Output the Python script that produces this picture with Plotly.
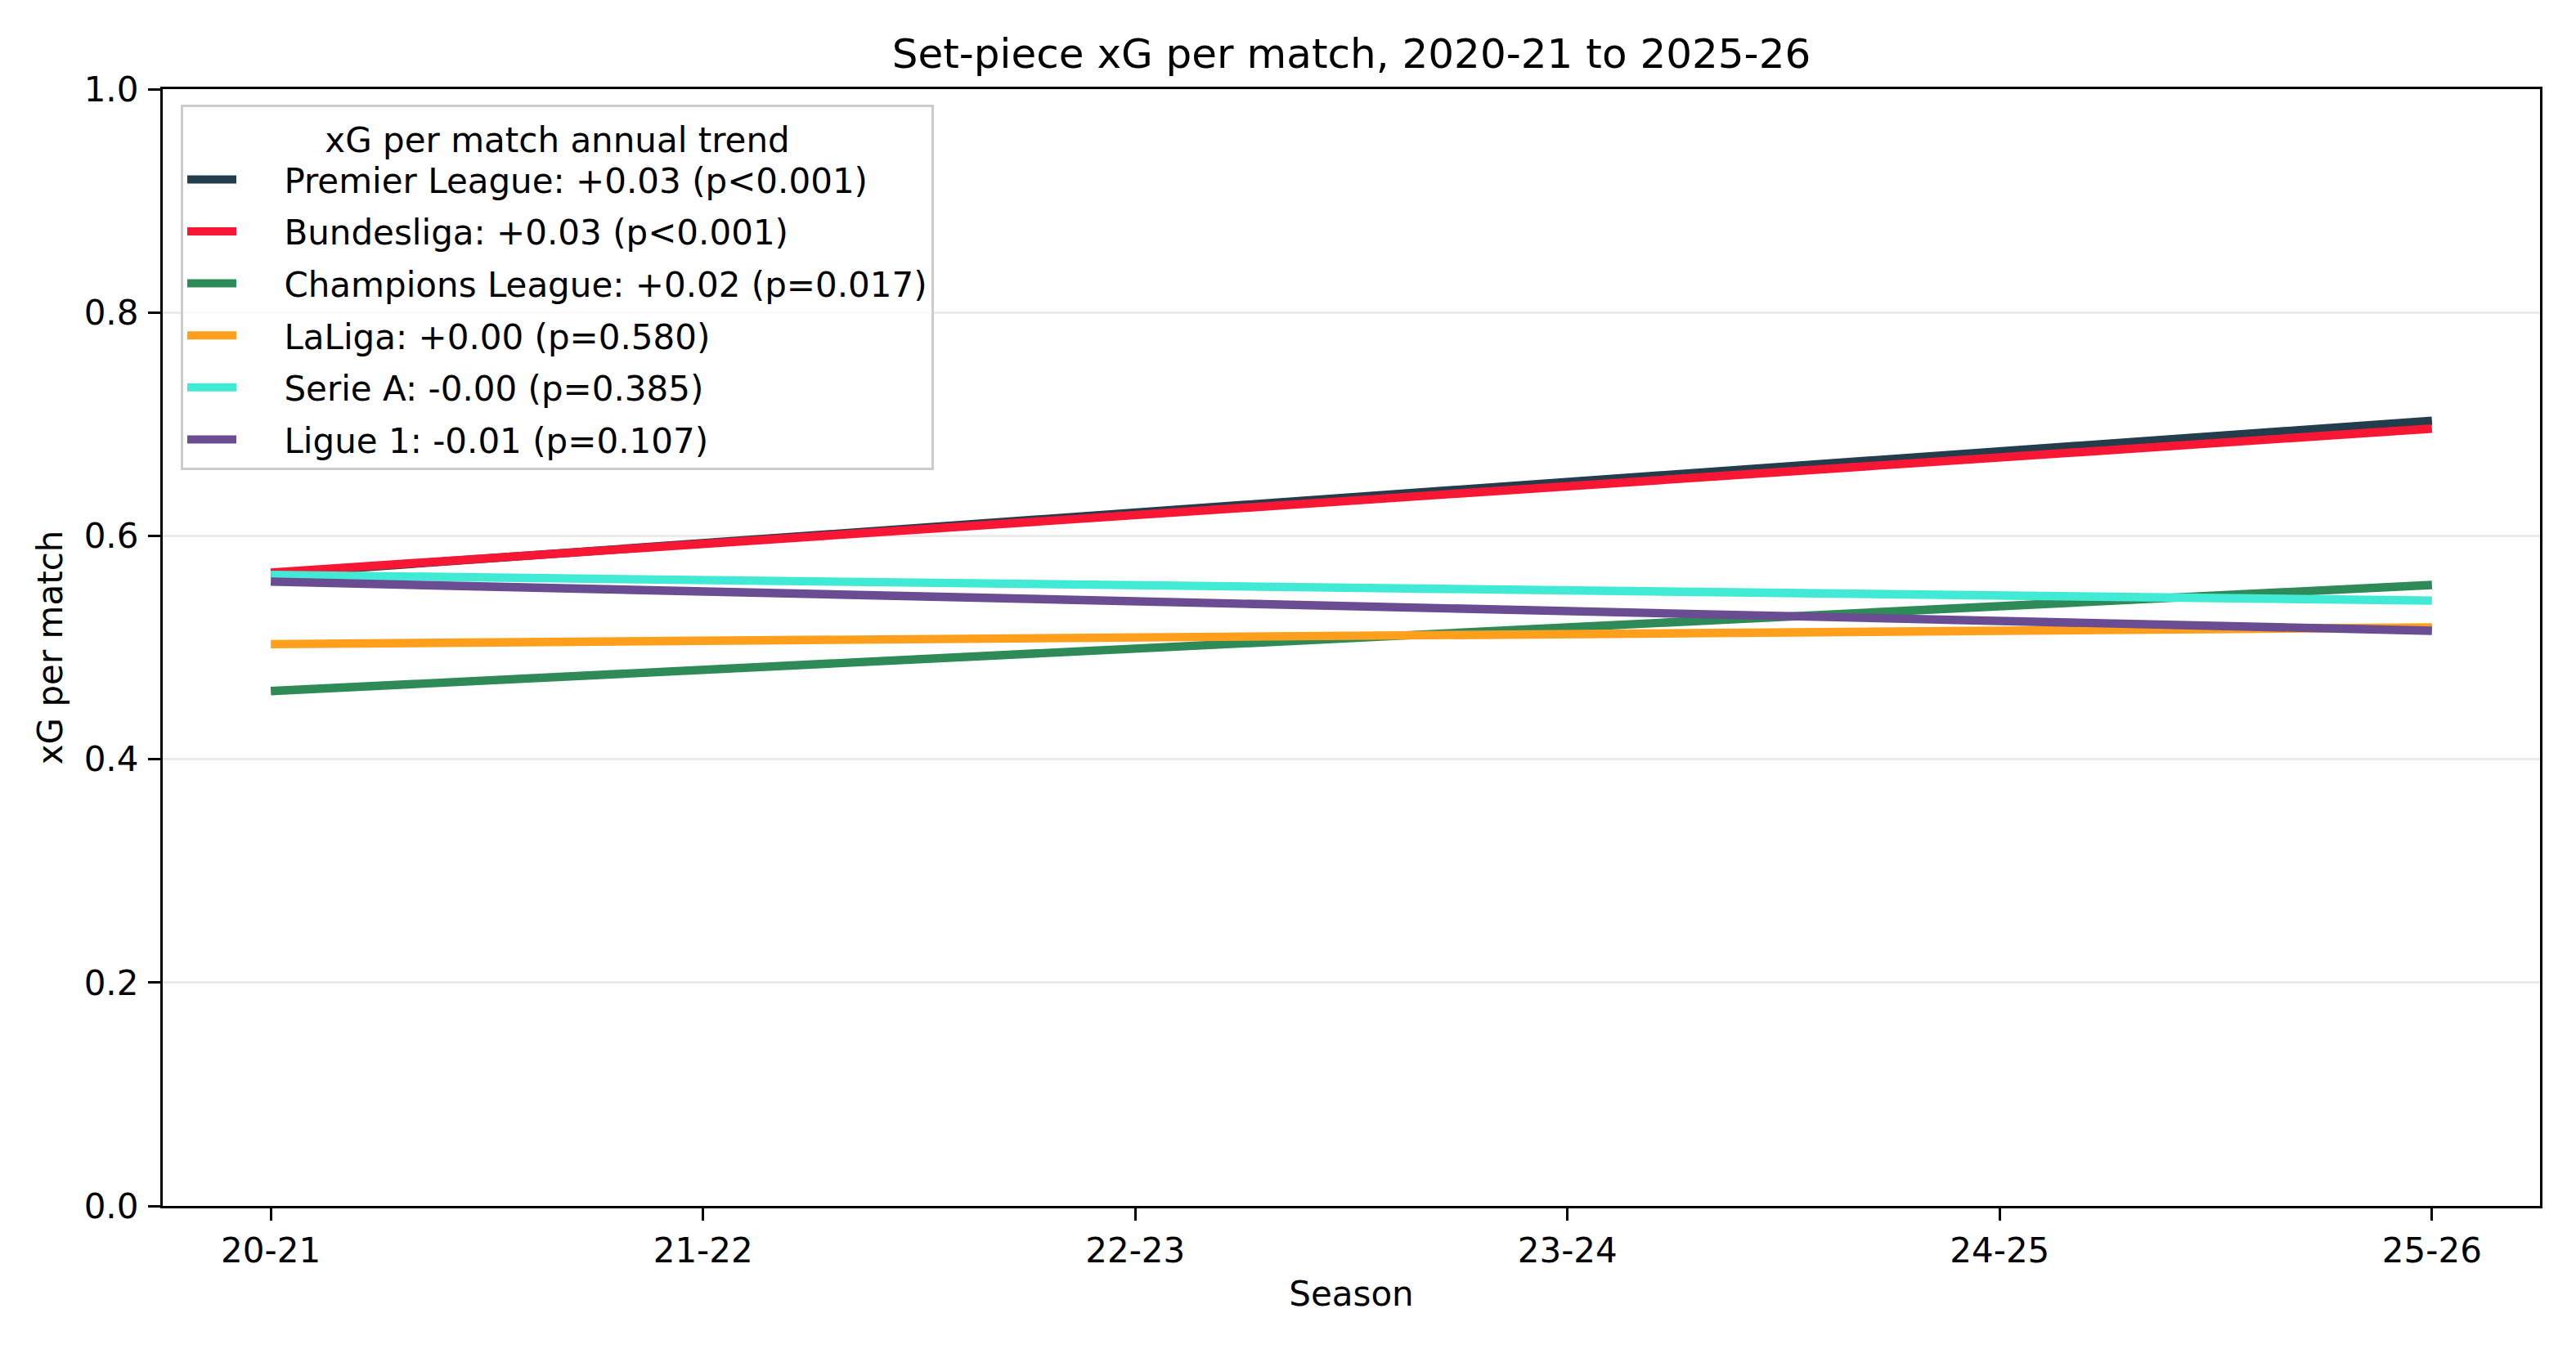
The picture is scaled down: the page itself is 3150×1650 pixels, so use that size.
import plotly.graph_objects as go

# ---- data ----
seasons = ["20-21", "21-22", "22-23", "23-24", "24-25", "25-26"]
leagues = ["Premier League", "Bundesliga", "Champions League", "LaLiga", "Serie A", "Ligue 1"]
slopes = ["+0.03", "+0.03", "+0.02", "+0.00", "-0.00", "-0.01"]
pvalues = ["p<0.001", "p<0.001", "p=0.017", "p=0.580", "p=0.385", "p=0.107"]
trend_start = [0.566, 0.567, 0.461, 0.503, 0.565, 0.559]   # fitted value at 20-21
trend_end = [0.703, 0.696, 0.556, 0.518, 0.542, 0.515]     # fitted value at 25-26
colors = ["#233D4D", "#F71735", "#2E8B57", "#FF9F1C", "#41EAD4", "#6A4C93"]
y_ticks = [0.0, 0.2, 0.4, 0.6, 0.8, 1.0]

W, H = 3150, 1650
OFF = 8  # page body margin offset
L, R, T, B = 199 - OFF, 3106 - OFF, 109 - OFF, 1475 - OFF
FONT = "DejaVu Sans"
PAD = "\u00a0" * 4

fig = go.Figure()
for i, (name, s, p, y0, y1, c) in enumerate(zip(leagues, slopes, pvalues, trend_start, trend_end, colors)):
    fig.add_trace(go.Scatter(
        x=[seasons[0], seasons[-1]], y=[y0, y1], mode="lines",
        name=f"{PAD}{name}: {s} ({p})", legendgroup=f"g{i}",
        line=dict(color=c, width=10.4),
    ))

axis_common = dict(
    showline=True, linecolor="black", linewidth=3.3, mirror=True,
    ticks="outside", ticklen=15, tickwidth=3.3, tickcolor="black",
    tickfont=dict(family=FONT, size=42, color="black"),
    zeroline=False,
)

fig.update_layout(
    width=W, height=H,
    margin=dict(l=L, r=W - R, t=T, b=H - B, pad=0),
    paper_bgcolor="white", plot_bgcolor="white",
    font=dict(family=FONT, size=42, color="black"),
    title=dict(
        text="Set-piece xG per match, 2020-21 to 2025-26",
        font=dict(family=FONT, size=50, color="black"),
        x=0.5, xref="paper", xanchor="center",
        y=1, yref="paper", yanchor="bottom", pad=dict(b=26),
    ),
    xaxis=dict(
        type="category", categoryorder="array", categoryarray=seasons,
        range=[-0.25, 5.25], showgrid=False,
        title=dict(text="Season", font=dict(family=FONT, size=42, color="black"), standoff=16),
        ticklabelstandoff=0,
        **axis_common,
    ),
    yaxis=dict(
        range=[0, 1], tickvals=y_ticks, tickformat=".1f",
        showgrid=True, gridcolor="#ebebeb", gridwidth=3,
        title=dict(text="xG per match", font=dict(family=FONT, size=42, color="black"), standoff=13),
        ticklabelstandoff=3,
        **axis_common,
    ),
    legend=dict(
        x=(221 - OFF - L) / (R - L), y=1 - (128 - OFF - T) / (B - T), xanchor="left", yanchor="top",
        bgcolor="rgba(255,255,255,0.8)", bordercolor="#cccccc", borderwidth=3,
        font=dict(family=FONT, size=42, color="black"),
        title=dict(text="xG per match annual trend", side="top center",
                   font=dict(family=FONT, size=42, color="black")),
        itemwidth=60, tracegroupgap=6,
    ),
    showlegend=True,
)

fig.write_html("out.html")
